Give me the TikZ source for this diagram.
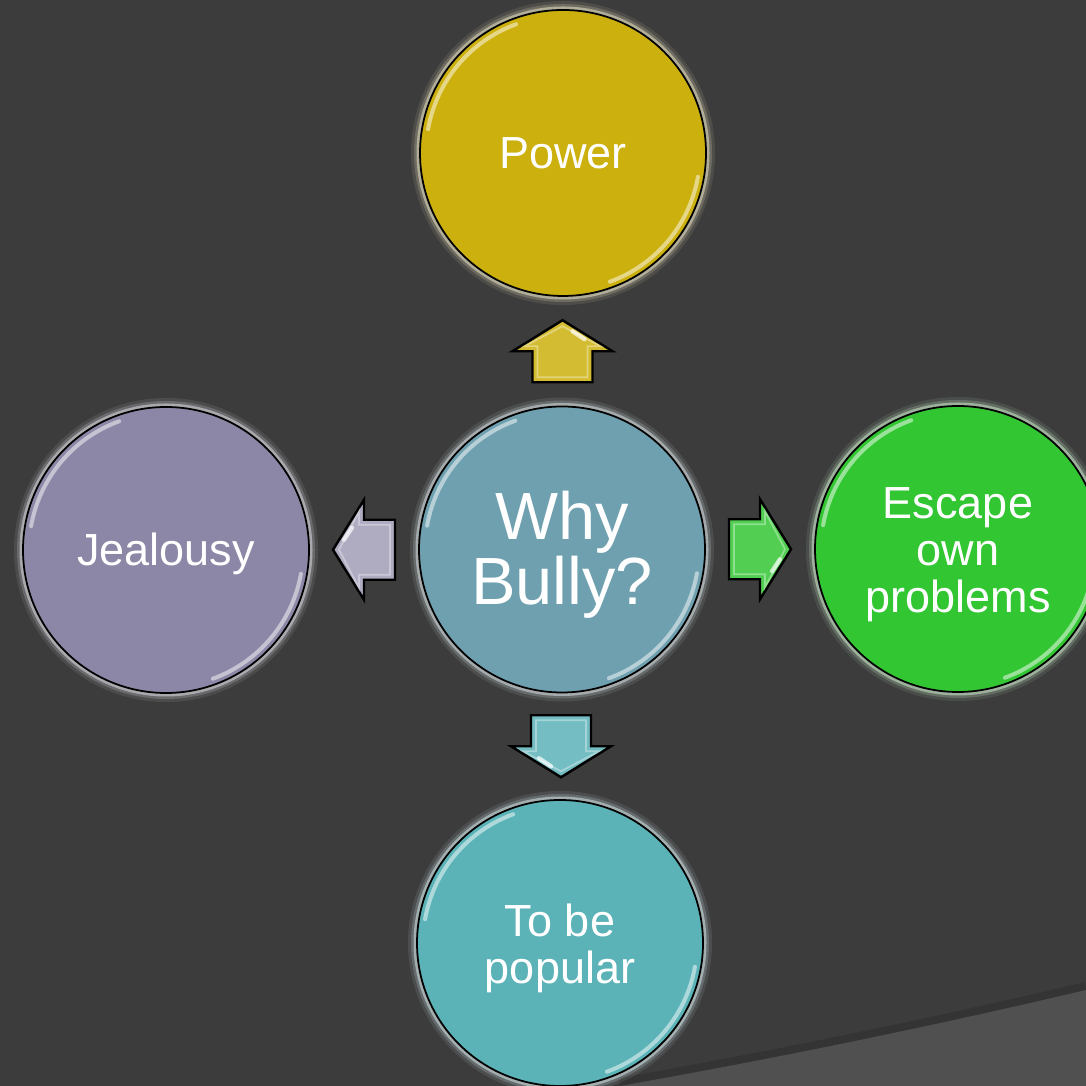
\documentclass[tikz,border=0pt]{standalone}
\usepackage{fontspec}
\setmainfont{Liberation Sans}
\usetikzlibrary{calc}
\definecolor{bgdark}{HTML}{3C3C3C}
\definecolor{bglight}{HTML}{505050}
\definecolor{powercol}{HTML}{CCB00E}
\definecolor{whycol}{HTML}{6FA0AF}
\definecolor{jealcol}{HTML}{8C87A6}
\definecolor{escapecol}{HTML}{33C633}
\definecolor{popcol}{HTML}{5BB3B8}
\def\shinearc(#1)(#2:#3){\draw[white, line width=0.4mm, opacity=0.5, line cap=round] ($(#1)+({1.37*cos(#2)},{1.37*sin(#2)})$) arc (#2:#3:1.37);}
\def\blockarrow[#1](#2)(#3){\draw[#1, line width=0.7pt, line join=miter, shift={(#2)}, rotate=#3] (-0.3,-0.31) -- (-0.3,0) -- (-0.5,0) -- (0,0.31) -- (0.5,0) -- (0.3,0) -- (0.3,-0.31) -- cycle;
	\draw[white, opacity=0.35, line width=0.5pt, shift={(#2)}, rotate=#3] (-0.25,-0.26) -- (-0.25,0.05) -- (-0.38,0.05) -- (0,0.25) -- (0.38,0.05) -- (0.25,0.05) -- (0.25,-0.26) -- cycle;
	\draw[white, opacity=0.7, line width=1.2pt, line cap=round, shift={(#2)}, rotate=#3] (0.1,0.2) -- (0.22,0.12);}
\tikzset{
	bubble/.style={circle, draw=black, line width=0.5pt, minimum size=2.86cm, inner sep=0pt,
		preaction={draw=#1!25!white, line width=1.8mm, opacity=0.1},
		preaction={draw=#1!25!white, line width=1.2mm, opacity=0.2},
		preaction={draw=#1!20!white, line width=0.7mm, opacity=0.5},
		fill=#1},
	bubbletext/.style={text=white, align=center, inner sep=0pt, font=\fontsize{12.8}{13.4}\selectfont}
}
\begin{document}
\begin{tikzpicture}
			%%%%% START %%%%%
			\clip (0,0) rectangle (10.86,10.86);
			\fill[bgdark] (0,0) rectangle (10.86,10.86);
			
			\draw[black, opacity=0.12, line width=1.4mm] (6.2,0.01) .. controls (8,0.33) and (9.5,0.65) .. (10.86,0.97);
			\fill[bglight] (6.2,0) .. controls (8,0.32) and (9.5,0.64) .. (10.86,0.96) -- (10.86,0) -- cycle;
			
			\node[bubble=whycol] (why) at (5.62,5.365) {};
			\node[bubble=powercol] (power) at (5.63,9.33) {};
			\node[bubble=jealcol] (jealousy) at (1.66,5.36) {};
			\node[bubble=escapecol] (escape) at (9.58,5.37) {};
			\node[bubble=popcol] (popular) at (5.60,1.43) {};
			
			\node[bubbletext, font=\fontsize{19}{18.5}\selectfont] (whytext) at ([yshift=-0.05cm]why) {Why\\Bully?};
			\node[bubbletext] (powertext) at (power) {Power};
			\node[bubbletext] (jealtext) at ([yshift=-0.04cm]jealousy) {Jealousy};
			\node[bubbletext] (escapetext) at ([yshift=-0.06cm]escape) {Escape\\own\\problems};
			\node[bubbletext] (poptext) at ([yshift=-0.05cm]popular) {To be\\popular};
			
			\foreach \n in {why,power,jealousy,escape,popular}{
				\shinearc(\n.center)(110:170);
				\shinearc(\n.center)(-70:-10);
			}
			
			\blockarrow[fill={powercol!85!white}]($(why)!0.5!(power)$)(0);
			\blockarrow[fill={jealcol!70!white}]($(why)!0.5!(jealousy)$)(90);
			\blockarrow[fill={escapecol!85!white}]($(why)!0.5!(escape)$)(-90);
			\blockarrow[fill={popcol!85!white}]($(why)!0.5!(popular)$)(180);
			
			%%%%% END %%%%%
\end{tikzpicture}
\end{document}
